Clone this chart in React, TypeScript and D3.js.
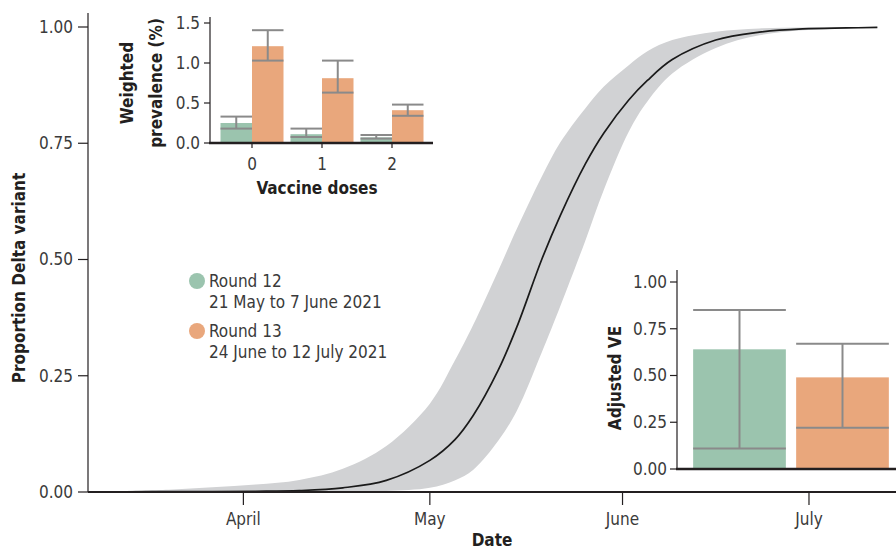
import * as d3 from "d3";

const FONT = "'Liberation Sans Narrow', 'DejaVu Sans Condensed', 'Roboto', sans-serif";
const GREEN = "#9bc4ae";
const ORANGE = "#e9a77c";
const INK = "#231f20";
const TEXT = "#3a3a3a";
const ERR = "#8a8a8a";

// Delta share fit
const curveDates = [
  "2021-03-13", "2021-03-20", "2021-03-27", "2021-04-03", "2021-04-10", "2021-04-17",
  "2021-04-24", "2021-05-01", "2021-05-05", "2021-05-08", "2021-05-12", "2021-05-15",
  "2021-05-19", "2021-05-22", "2021-05-26", "2021-05-29", "2021-06-02", "2021-06-05",
  "2021-06-09", "2021-06-16", "2021-06-23", "2021-06-30", "2021-07-07", "2021-07-12",
];
const deltaMean = [
  0.0005, 0.0008, 0.001, 0.0015, 0.003, 0.009, 0.025, 0.068, 0.112, 0.165, 0.262, 0.355,
  0.5, 0.595, 0.705, 0.772, 0.843, 0.885, 0.93, 0.972, 0.989, 0.996, 0.998, 0.999,
];
const deltaLower = [
  0, 0, 0, 0, 0, 0.0005, 0.002, 0.009, 0.025, 0.048, 0.11, 0.175, 0.3, 0.4, 0.54, 0.65,
  0.775, 0.84, 0.9, 0.955, 0.982, 0.993, 0.997, 0.998,
];
const deltaUpper = [
  0.002, 0.005, 0.01, 0.016, 0.026, 0.05, 0.099, 0.19, 0.282, 0.36, 0.476, 0.566, 0.678,
  0.752, 0.825, 0.872, 0.918, 0.948, 0.972, 0.99, 0.997, 0.999, 0.999, 1.0,
];

const monthTicks = ["2021-04-01", "2021-05-01", "2021-06-01", "2021-07-01"];
const monthLabels = ["April", "May", "June", "July"];
const proportionTicks = [0, 0.25, 0.5, 0.75, 1];

// inset: weighted prevalence by doses
const doses = ["0", "1", "2"];
const prev12 = [0.25, 0.11, 0.07];
const prev12Lo = [0.18, 0.075, 0.055];
const prev12Hi = [0.33, 0.18, 0.1];
const prev13 = [1.21, 0.81, 0.41];
const prev13Lo = [1.03, 0.63, 0.34];
const prev13Hi = [1.41, 1.03, 0.48];
const prevTicks = [0, 0.5, 1.0, 1.5];

// legend + adjusted VE
const rounds = ["Round 12", "Round 13"];
const roundDates = ["21 May to 7 June 2021", "24 June to 12 July 2021"];
const roundColors = [GREEN, ORANGE];
const veValues = [0.64, 0.49];
const veLower = [0.11, 0.22];
const veUpper = [0.85, 0.67];
const veTicks = [0, 0.25, 0.5, 0.75, 1];

const parse = d3.timeParse("%Y-%m-%d");

export default function App() {
  const W = 896;
  const H = 551;

  const x = d3
    .scaleTime()
    .domain([parse("2021-03-07")!, parse("2021-07-15")!])
    .range([88, 896]);
  const y = d3.scaleLinear().domain([0, 1]).range([492, 27]);

  const pts = curveDates.map((d, i) => ({
    date: parse(d)!,
    m: deltaMean[i],
    lo: deltaLower[i],
    hi: deltaUpper[i],
  }));

  const smooth = d3.curveCatmullRom.alpha(0.5);
  const band = d3
    .area<(typeof pts)[number]>()
    .x((d) => x(d.date))
    .y0((d) => y(d.lo))
    .y1((d) => y(d.hi))
    .curve(smooth)(pts);
  const line = d3
    .line<(typeof pts)[number]>()
    .x((d) => x(d.date))
    .y((d) => y(d.m))
    .curve(smooth)(pts);

  // inset 1
  const px = d3.scaleBand().domain(doses).range([217, 427]).paddingInner(0.1).paddingOuter(0.05);
  const py = d3.scaleLinear().domain([0, 1.5]).range([143, 23]);
  const bw = px.bandwidth() / 2;
  const prevBars = doses.flatMap((d, i) => [
    { key: d + "a", x0: px(d)!, v: prev12[i], lo: prev12Lo[i], hi: prev12Hi[i], c: GREEN },
    { key: d + "b", x0: px(d)! + bw, v: prev13[i], lo: prev13Lo[i], hi: prev13Hi[i], c: ORANGE },
  ]);

  // inset 2
  const vx = d3.scaleBand().domain(rounds).range([688, 894]).paddingInner(0.1).paddingOuter(0.05);
  const vy = d3.scaleLinear().domain([0, 1]).range([469, 282]);

  const tickText = { fontFamily: FONT, fontSize: 17, fill: TEXT } as const;
  const boldText = { fontFamily: FONT, fontSize: 17, fontWeight: 700, fill: INK } as const;

  return (
    <svg
      width={W}
      height={H}
      style={{ position: "absolute", left: 0, top: 0, background: "#fff" }}
    >
      {/* main chart */}
      <path d={band ?? ""} fill="#d1d2d4" />
      <path d={line ?? ""} fill="none" stroke="#1a1a1a" strokeWidth={1.7} />

      <line x1={88} x2={88} y1={13} y2={492} stroke={INK} strokeWidth={1.2} />
      <line x1={88} x2={896} y1={492} y2={492} stroke={INK} strokeWidth={2.2} />
      {proportionTicks.map((t) => (
        <g key={t}>
          <line x1={78} x2={88} y1={y(t)} y2={y(t)} stroke={INK} strokeWidth={1.2} />
          <text x={73} y={y(t)} dy="0.35em" textAnchor="end" {...tickText}>
            {t.toFixed(2)}
          </text>
        </g>
      ))}
      {monthTicks.map((m, i) => {
        const xx = x(parse(m)!);
        return (
          <g key={m}>
            <line x1={xx} x2={xx} y1={492} y2={505} stroke={INK} strokeWidth={1.2} />
            <text x={xx} y={525} textAnchor="middle" {...tickText}>
              {monthLabels[i]}
            </text>
          </g>
        );
      })}
      <text x={492} y={546} textAnchor="middle" {...boldText}>
        Date
      </text>
      <text
        transform="translate(25,278) rotate(-90)"
        textAnchor="middle"
        {...boldText}
      >
        Proportion Delta variant
      </text>

      {/* legend */}
      {rounds.map((r, i) => (
        <g key={r} transform={`translate(0,${i * 50})`}>
          <circle cx={197} cy={281} r={8} fill={roundColors[i]} />
          <text x={209} y={287} {...tickText}>
            {r}
          </text>
          <text x={209} y={308} {...tickText}>
            {roundDates[i]}
          </text>
        </g>
      ))}

      {/* inset 1: weighted prevalence */}
      {prevBars.map((b) => {
        const cx = b.x0 + bw / 2;
        return (
          <g key={b.key}>
            <rect x={b.x0} y={py(b.v)} width={bw} height={143 - py(b.v)} fill={b.c} />
            <line x1={cx} x2={cx} y1={py(b.hi)} y2={py(b.lo)} stroke={ERR} strokeWidth={2} />
            <line x1={b.x0} x2={b.x0 + bw} y1={py(b.hi)} y2={py(b.hi)} stroke={ERR} strokeWidth={2} />
            <line x1={b.x0} x2={b.x0 + bw} y1={py(b.lo)} y2={py(b.lo)} stroke={ERR} strokeWidth={2} />
          </g>
        );
      })}
      <line x1={210} x2={210} y1={17} y2={143} stroke={INK} strokeWidth={1.2} />
      <line x1={209} x2={433} y1={143} y2={143} stroke={INK} strokeWidth={2.5} />
      {prevTicks.map((t) => (
        <g key={t}>
          <line x1={204} x2={210} y1={py(t)} y2={py(t)} stroke={INK} strokeWidth={1.2} />
          <text x={200} y={py(t)} dy="0.35em" textAnchor="end" {...tickText}>
            {t.toFixed(1)}
          </text>
        </g>
      ))}
      {doses.map((d) => {
        const xx = px(d)! + px.bandwidth() / 2;
        return (
          <g key={d}>
            <line x1={xx} x2={xx} y1={143} y2={148} stroke={INK} strokeWidth={1.2} />
            <text x={xx} y={170} textAnchor="middle" {...tickText}>
              {d}
            </text>
          </g>
        );
      })}
      <text x={317} y={194} textAnchor="middle" {...boldText}>
        Vaccine doses
      </text>
      <text transform="translate(133,83) rotate(-90)" textAnchor="middle" {...boldText}>
        Weighted
      </text>
      <text transform="translate(162,83) rotate(-90)" textAnchor="middle" {...boldText}>
        prevalence (%)
      </text>

      {/* inset 2: adjusted VE */}
      {rounds.map((r, i) => {
        const x0 = vx(r)!;
        const w = vx.bandwidth();
        const cx = x0 + w / 2;
        return (
          <g key={r}>
            <rect x={x0} y={vy(veValues[i])} width={w} height={469 - vy(veValues[i])} fill={roundColors[i]} />
            <line x1={cx} x2={cx} y1={vy(veUpper[i])} y2={vy(veLower[i])} stroke={ERR} strokeWidth={2} />
            <line x1={x0} x2={x0 + w} y1={vy(veUpper[i])} y2={vy(veUpper[i])} stroke={ERR} strokeWidth={2} />
            <line x1={x0} x2={x0 + w} y1={vy(veLower[i])} y2={vy(veLower[i])} stroke={ERR} strokeWidth={2} />
          </g>
        );
      })}
      <line x1={677} x2={677} y1={270} y2={469} stroke={INK} strokeWidth={1.2} />
      <line x1={676} x2={896} y1={469} y2={469} stroke={INK} strokeWidth={2.5} />
      {veTicks.map((t) => (
        <g key={t}>
          <line x1={670} x2={677} y1={vy(t)} y2={vy(t)} stroke={INK} strokeWidth={1.2} />
          <text x={667} y={vy(t)} dy="0.35em" textAnchor="end" {...tickText}>
            {t.toFixed(2)}
          </text>
        </g>
      ))}
      <text transform="translate(621,378) rotate(-90)" textAnchor="middle" {...boldText}>
        Adjusted VE
      </text>
    </svg>
  );
}
